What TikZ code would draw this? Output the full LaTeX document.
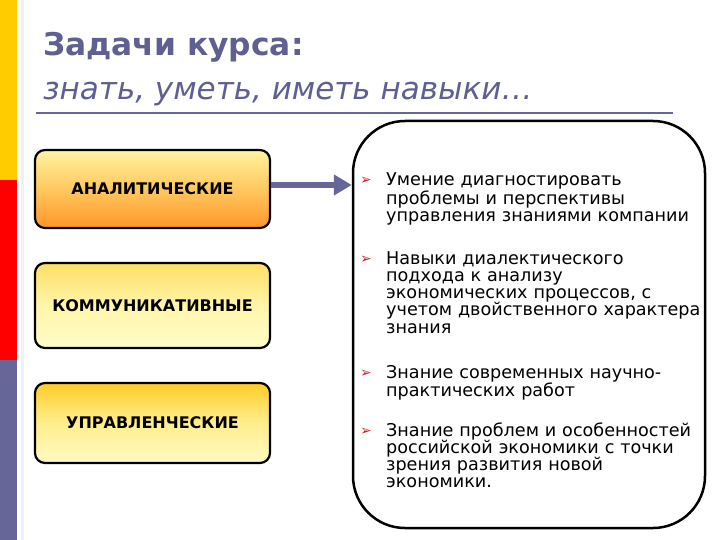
\documentclass[tikz,border=0pt]{standalone}
\usepackage{fontspec}
\setmainfont{DejaVu Sans}
\usetikzlibrary{arrows.meta}
\definecolor{titlec}{RGB}{95,95,145}
\definecolor{barY}{RGB}{255,204,0}
\definecolor{barR}{RGB}{255,0,0}
\definecolor{barP}{RGB}{102,102,153}
\definecolor{bulc}{RGB}{215,30,40}
\tikzset{
  catbox/.style={draw=black, line width=2.2pt, rounded corners=10pt, minimum width=235pt, inner sep=0pt,
     font=\fontsize{16}{18}\selectfont\bfseries, text=black},
  item/.style={anchor=base west, align=left, text width=330pt, inner sep=0pt,
     font=\fontsize{17.6}{17.3}\selectfont, text=black},
  bul/.style={anchor=base west, inner sep=0pt, text=bulc, font=\fontsize{14}{14}\selectfont},
  arr/.style={draw=barP, line width=6pt, -{Triangle[length=18pt,width=20pt]}},
}
\begin{document}
\begin{tikzpicture}[x=1pt,y=-1pt]
\useasboundingbox (0,0) rectangle (720,540);
\fill[white] (0,0) rectangle (720,540);
% left bar
\fill[barY] (0,0) rectangle (17,180);
\fill[barR] (0,180) rectangle (17,360);
\fill[barP] (0,360) rectangle (17,540);
\draw[line width=3pt, color={rgb,255:red,235;green,240;blue,250}] (22,0) -- (22,540);
% title
\node[anchor=base west, inner sep=0pt, text=titlec, font=\fontsize{31.3}{32}\selectfont\bfseries] (t1) at (43,56) {Задачи курса:};
\node[anchor=base west, inner sep=0pt, text=titlec, font=\fontsize{31}{32}\selectfont\itshape] (t2) at (43,100) {знать, уметь, иметь навыки…};
\draw[barP, line width=2pt] (36,113) -- (673,113);
% big box
\node[draw=black, line width=2.5pt, fill=white, rounded corners=52pt, minimum width=352pt, minimum height=407pt, inner sep=0pt] (big) at (529,324.5) {};
% category boxes
\node[catbox, minimum height=78pt, top color={rgb,255:red,255;green,243;blue,160}, bottom color={rgb,255:red,255;green,150;blue,40}, middle color={rgb,255:red,255;green,200;blue,95}] (a1) at (152.5,189) {АНАЛИТИЧЕСКИЕ};
\node[catbox, minimum height=85pt, top color={rgb,255:red,255;green,222;blue,100}, bottom color={rgb,255:red,255;green,252;blue,200}, middle color={rgb,255:red,255;green,245;blue,170}] (a2) at (152.5,305.5) {КОММУНИКАТИВНЫЕ};
\node[catbox, minimum height=80pt, top color={rgb,255:red,255;green,204;blue,40}, bottom color={rgb,255:red,255;green,250;blue,195}, middle color={rgb,255:red,255;green,238;blue,140}] (a3) at (152.5,423) {УПРАВЛЕНЧЕСКИЕ};
% arrow
\draw[arr] ([yshift=4pt]a1.east) -- ([yshift=4pt]a1.east -| big.west);
% bullets and items
\node[bul] (b1) at (360,185) {➢};
\node[item] (i1) at (386,186) {Умение диагностировать\\проблемы и перспективы\\управления знаниями компании};
\node[bul] (b2) at (360,263) {➢};
\node[item] (i2) at (386,264) {Навыки диалектического\\подхода к анализу\\экономических процессов, с\\учетом двойственного характера\\знания};
\node[bul] (b3) at (360,377) {➢};
\node[item] (i3) at (386,378) {Знание современных научно-\\практических работ};
\node[bul] (b4) at (360,435) {➢};
\node[item] (i4) at (386,436) {Знание проблем и особенностей\\российской экономики с точки\\зрения развития новой\\экономики.};
\end{tikzpicture}
\end{document}
